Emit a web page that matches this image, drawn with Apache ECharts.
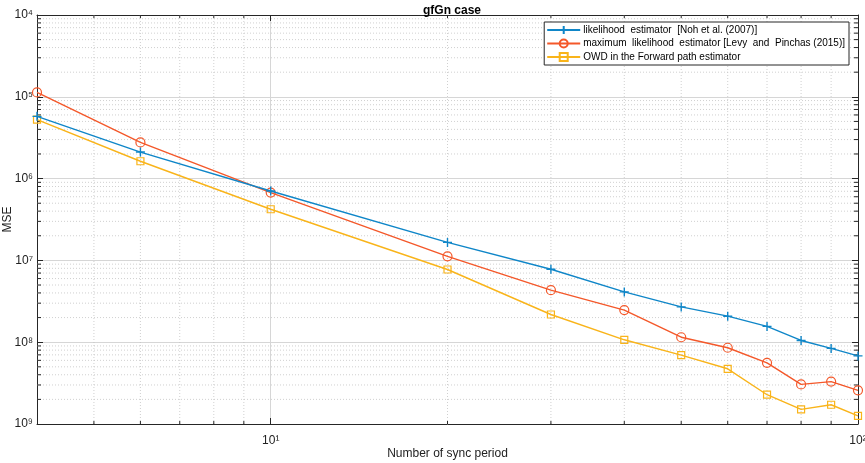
<!DOCTYPE html>
<html>
<head>
    <meta charset="utf-8">
    <title>gfGn case</title>
    <script src="https://cdn.jsdelivr.net/npm/echarts@6/dist/echarts.min.js"></script>
    <style type="text/css">
        * { margin: 0; padding: 0; }
        body { background: #fff; }
    </style>
</head>
<body>
<div id="main" style="width: 865px; height: 463px;"></div>
<script type="text/javascript">
    // sync periods (x) and MSE values
    var periods = [4, 6, 10, 20, 30, 40, 50, 60, 70, 80, 90, 100];
    var mseNoh = [5.77e-6, 2.11e-6, 7.06e-7, 1.66e-7, 7.8e-8, 4.12e-8, 2.7e-8, 2.08e-8, 1.56e-8, 1.05e-8, 8.4e-9, 6.8e-9];
    var mseLevy = [1.13e-5, 2.77e-6, 6.75e-7, 1.12e-7, 4.33e-8, 2.47e-8, 1.15e-8, 8.55e-9, 5.6e-9, 3.05e-9, 3.3e-9, 2.58e-9];
    var mseOwd = [5.25e-6, 1.63e-6, 4.22e-7, 7.74e-8, 2.18e-8, 1.07e-8, 6.96e-9, 4.73e-9, 2.28e-9, 1.51e-9, 1.72e-9, 1.26e-9];

    var seriesNames = [
        'likelihood  estimator  [Noh et al. (2007)]',
        'maximum  likelihood  estimator [Levy  and  Pinchas (2015)]',
        'OWD in the Forward path estimator'
    ];
    var colors = ['#0f86c8', '#f4582a', '#f9b41a'];

    // major ticks of the x axis, minor grid positions (log axes)
    var xMajorTicks = [10, 100];
    var xMinorTicks = [5, 6, 7, 8, 9, 20, 30, 40, 50, 60, 70, 80, 90];
    var yDecades = [1e-9, 1e-8, 1e-7, 1e-6, 1e-5];
    var yMultipliers = [2, 3, 4, 5, 6, 7, 8, 9];

    var sup = {'0':'⁰','1':'¹','2':'²','3':'³','4':'⁴','5':'⁵','6':'⁶','7':'⁷','8':'⁸','9':'⁹'};
    function powLabel(v) {
        var l = Math.log10(v);
        var e = Math.round(l);
        if (Math.abs(l - e) > 1e-6) return '';
        var s = String(Math.abs(e)).split('').map(function (c) { return sup[c]; }).join('');
        return '10' + s;
    }

    var yMinor = [];
    yDecades.forEach(function (d) {
        yMultipliers.forEach(function (m) { yMinor.push([10, d * m]); });
    });
    var xMinor = xMinorTicks.map(function (v) { return [v, 1e-6]; });

    var axisColor = '#262626';
    var font = 'Liberation Sans, Arial, Helvetica, sans-serif';

    function minorX(params, api) {
        var cs = params.coordSys;
        var x = api.coord([api.value(0), api.value(1)])[0];
        return {
            type: 'group',
            children: [
                {type: 'line', shape: {x1: x, y1: cs.y, x2: x, y2: cs.y + cs.height},
                    style: {stroke: '#c4c4c4', lineWidth: 0.8, lineDash: [1, 2]}},
                {type: 'line', shape: {x1: x, y1: cs.y + cs.height, x2: x, y2: cs.y + cs.height - 3},
                    style: {stroke: axisColor, lineWidth: 1}},
                {type: 'line', shape: {x1: x, y1: cs.y, x2: x, y2: cs.y + 3},
                    style: {stroke: axisColor, lineWidth: 1}}
            ]
        };
    }

    function minorY(params, api) {
        var cs = params.coordSys;
        var y = api.coord([api.value(0), api.value(1)])[1];
        return {
            type: 'group',
            children: [
                {type: 'line', shape: {x1: cs.x, y1: y, x2: cs.x + cs.width, y2: y},
                    style: {stroke: '#c4c4c4', lineWidth: 0.8, lineDash: [1, 2]}},
                {type: 'line', shape: {x1: cs.x, y1: y, x2: cs.x + 4, y2: y},
                    style: {stroke: axisColor, lineWidth: 1}},
                {type: 'line', shape: {x1: cs.x + cs.width, y1: y, x2: cs.x + cs.width - 4, y2: y},
                    style: {stroke: axisColor, lineWidth: 1}}
            ]
        };
    }

    function pairs(ys) {
        return periods.map(function (x, i) { return [x, ys[i]]; });
    }

    var myChart = echarts.init(document.getElementById('main'));

    var baseX = {
        type: 'log', logBase: 10, min: 4, max: 100,
        axisLine: {show: true, lineStyle: {color: axisColor, width: 1}},
        axisTick: {show: true, inside: true, length: 6, customValues: xMajorTicks, lineStyle: {color: axisColor}},
        splitLine: {show: false},
        axisLabel: {show: false}
    };
    var baseY = {
        type: 'log', logBase: 10, min: 1e-9, max: 1e-4, interval: 1,
        axisLine: {show: true, lineStyle: {color: axisColor, width: 1}},
        axisTick: {show: true, inside: true, length: 6, lineStyle: {color: axisColor}},
        splitLine: {show: false},
        axisLabel: {show: false}
    };

    var option = {
        animation: false,
        textStyle: {fontFamily: font},
        title: {
            text: 'gfGn case',
            left: 447, top: 0, textAlign: 'center',
            textStyle: {fontSize: 12, fontWeight: 'bold', color: '#000', fontFamily: font}
        },
        grid: {left: 37, right: 7, top: 15, bottom: 39, containLabel: false, outerBoundsMode: 'none'},
        legend: {
            data: seriesNames,
            orient: 'vertical',
            right: 16, top: 22,
            backgroundColor: '#fff',
            borderColor: axisColor, borderWidth: 1, borderRadius: 0,
            padding: [3, 4, 3, 2],
            itemWidth: 33, itemHeight: 10, itemGap: 3.5,
            textStyle: {fontSize: 10, color: '#000', fontFamily: font, padding: [0, 0, 0, -2]}
        },
        xAxis: [
            echarts.util.merge({
                position: 'bottom',
                name: 'Number of sync period', nameLocation: 'middle', nameGap: 24,
                nameMoveOverlap: false,
                nameTextStyle: {fontSize: 12, color: '#222', fontFamily: font},
                splitLine: {show: true, lineStyle: {color: '#d6d6d6', width: 1}},
                axisLabel: {show: true, fontSize: 12, color: '#222', margin: 11,
                    customValues: xMajorTicks, formatter: powLabel}
            }, baseX, false),
            echarts.util.merge({position: 'top'}, baseX, false)
        ],
        yAxis: [
            echarts.util.merge({
                position: 'left',
                name: 'MSE', nameLocation: 'middle', nameGap: 23,
                nameMoveOverlap: false,
                nameTextStyle: {fontSize: 12, color: '#222', fontFamily: font},
                splitLine: {show: true, lineStyle: {color: '#d6d6d6', width: 1}},
                axisLabel: {show: true, fontSize: 12, color: '#222', margin: 4, formatter: powLabel}
            }, baseY, false),
            echarts.util.merge({position: 'right'}, baseY, false)
        ],
        series: [
            {type: 'custom', silent: true, z: 1, data: xMinor, renderItem: minorX,
                xAxisIndex: 0, yAxisIndex: 0, clip: false},
            {type: 'custom', silent: true, z: 1, data: yMinor, renderItem: minorY,
                xAxisIndex: 0, yAxisIndex: 0, clip: false},
            {
                name: seriesNames[0], type: 'line', z: 5, data: pairs(mseNoh),
                symbol: 'path://M5,0L5,10M0,5L10,5', symbolSize: 9,
                lineStyle: {color: colors[0], width: 1.4},
                itemStyle: {color: 'transparent', borderColor: colors[0], borderWidth: 1.4}
            },
            {
                name: seriesNames[1], type: 'line', z: 4, data: pairs(mseLevy),
                symbol: 'circle', symbolSize: 9,
                lineStyle: {color: colors[1], width: 1.4},
                itemStyle: {color: 'transparent', borderColor: colors[1], borderWidth: 1.2}
            },
            {
                name: seriesNames[2], type: 'line', z: 3, data: pairs(mseOwd),
                symbol: 'rect', symbolSize: 7,
                lineStyle: {color: colors[2], width: 1.4},
                itemStyle: {color: 'transparent', borderColor: colors[2], borderWidth: 1.2}
            }
        ]
    };

    myChart.setOption(option);

    window.addEventListener('resize', function () {
        myChart.resize();
    });
</script>
</body>
</html>
